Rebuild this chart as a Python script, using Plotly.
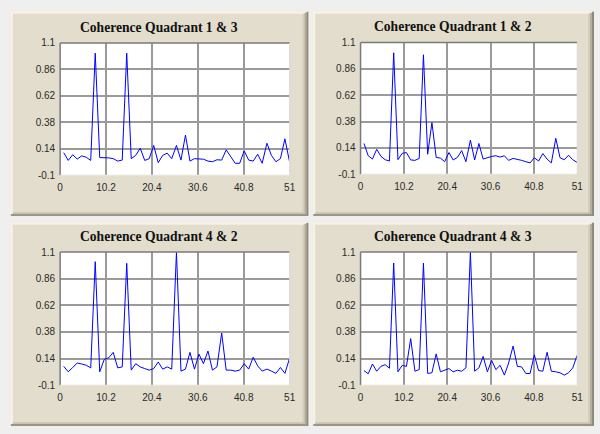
import plotly.graph_objects as go

W, H = 600, 434

# ---------------- data ----------------
x_vals = [0.8, 1.8, 2.8, 3.8, 4.8, 5.8, 6.8, 7.8, 8.8, 9.8,
          10.8, 11.8, 12.8, 13.8, 14.8, 15.8, 16.8, 17.8, 18.8, 19.8,
          20.8, 21.8, 22.8, 23.8, 24.8, 25.85, 26.85, 27.85, 28.85, 29.85,
          30.85, 31.85, 32.85, 33.85, 34.85, 35.9, 36.9, 37.9, 38.9, 39.9,
          40.9, 41.9, 42.9, 43.9, 44.9, 45.95, 46.95, 47.95, 48.95, 49.95, 50.95]

q13 = [0.104, 0.034, 0.086, 0.046, 0.075, 0.063, 0.034, 1.007, 0.06, 0.06,
       0.057, 0.05, 0.028, 0.037, 1.007, 0.05, 0.08, 0.145, 0.034, 0.05,
       0.17, 0.014, 0.08, 0.1, 0.05, 0.17, 0.037, 0.264, 0.028, 0.05,
       0.05, 0.045, 0.028, 0.022, 0.04, 0.037, 0.13, 0.066, 0.008, 0.008,
       0.12, 0.037, 0.028, 0.09, 0.008, 0.19, 0.08, 0.022, 0.05, 0.23, 0.028]

q12 = [0.18, 0.068, 0.038, 0.127, 0.062, 0.032, 0.02, 1.006, 0.032, 0.09,
       0.097, 0.03, 0.026, 0.044, 0.988, 0.082, 0.37, 0.053, 0.047, 0.014,
       0.097, 0.03, 0.053, 0.115, 0.014, 0.21, 0.03, 0.18, 0.038, 0.053,
       0.062, 0.068, 0.056, 0.068, 0.026, 0.044, 0.038, 0.026, 0.014, 0.003,
       0.05, 0.02, 0.088, 0.038, 0.003, 0.227, 0.05, 0.032, 0.073, 0.032, 0.008]

q42 = [0.07, 0.021, 0.06, 0.1, 0.091, 0.08, 0.056, 1.013, 0.021, 0.132,
       0.147, 0.196, 0.056, 0.065, 0.998, 0.036, 0.094, 0.065, 0.05, 0.036,
       0.05, 0.109, 0.045, 0.065, 0.045, 1.1, 0.027, 0.045, 0.196, 0.045,
       0.18, 0.094, 0.208, 0.036, 0.065, 0.37, 0.036, 0.036, 0.027, 0.036,
       0.094, 0.045, 0.152, 0.074, 0.027, 0.045, 0.027, 0.007, 0.06, 0.007, 0.138]

q43 = [0.032, 0.003, 0.091, 0.026, 0.07, 0.085, 0.053, 1.0, 0.021, 0.079,
       0.07, 0.32, 0.026, 0.041, 1.0, 0.006, 0.012, 0.182, 0.021, 0.035,
       0.05, 0.021, 0.035, 0.026, 0.056, 1.1, 0.026, 0.056, 0.159, 0.021,
       0.124, 0.041, 0.079, -0.009, 0.1, 0.253, 0.07, 0.065, 0.006, 0.006,
       0.174, 0.032, 0.026, 0.197, 0.026, 0.021, 0.012, -0.009, 0.012, 0.056, 0.168]

titles = ["Coherence Quadrant 1 & 3", "Coherence Quadrant 1 & 2",
          "Coherence Quadrant 4 & 2", "Coherence Quadrant 4 & 3"]
series = [q13, q12, q42, q43]

x_ticks = [0, 10.2, 20.4, 30.6, 40.8, 51]
x_ticktext = ["0", "10.2", "20.4", "30.6", "40.8", "51"]
y_ticks = [-0.1, 0.14, 0.38, 0.62, 0.86, 1.1]
y_ticktext = ["-0.1", "0.14", "0.38", "0.62", "0.86", "1.1"]

# ---------------- layout geometry (pixels) ----------------
panels = [(7, 5, 310, 216), (314, 5, 600, 216), (7, 222, 310, 432), (314, 222, 600, 432)]
plots = [(58, 38, 291, 174), (363, 37.5, 583, 173), (58, 253, 291, 390), (363, 253, 583, 390)]
title_pos = [(158, 22.5), (457, 21.5), (158, 237), (457, 237)]


def px(x):
    return x / W


def py(y):
    return 1 - y / H


fig = go.Figure()
shapes = []
annotations = []


def rect(x0, y0, x1, y1, color, layer="below"):
    shapes.append(dict(type="rect", xref="paper", yref="paper",
                       x0=px(x0), x1=px(x1), y0=py(y1), y1=py(y0),
                       fillcolor=color, line=dict(width=0), layer=layer))


def line(x0, y0, x1, y1, color, width=1, layer="above"):
    shapes.append(dict(type="line", xref="paper", yref="paper",
                       x0=px(x0), x1=px(x1), y0=py(y0), y1=py(y1),
                       line=dict(color=color, width=width), layer=layer))


for (x0, y0, x1, y1) in panels:
    rect(x0, y0, x1, y1, "#e3ddcd")
    # highlight left/top
    rect(x0, y0, x0 + 3, y1, "#f6f1e4")
    rect(x0, y0, x1, y0 + 3, "#f6f1e4")
    # shadow right/bottom
    rect(x1 - 6, y0 + 3, x1 - 4, y1, "#d4cdbb")
    rect(x1 - 4, y0 + 2, x1 - 2, y1, "#b3ad9c")
    rect(x1 - 2, y0 + 1, x1, y1, "#8d8879")
    rect(x0 + 3, y1 - 4, x1 - 4, y1 - 2, "#c9c2b0")
    rect(x0 + 1, y1 - 2, x1 - 2, y1, "#9a9586")

for (x0, y0, x1, y1) in plots:
    rect(x0, y0, x1, y1, "#ffffff")

for i, (s, t) in enumerate(zip(series, titles)):
    n = "" if i == 0 else str(i + 1)
    x0, y0, x1, y1 = plots[i]
    fig.add_trace(go.Scatter(x=x_vals, y=s, mode="lines",
                             line=dict(color="#0000ff", width=1),
                             xaxis="x" + n, yaxis="y" + n, showlegend=False,
                             hoverinfo="skip"))
    common = dict(showgrid=True, gridcolor="#9a9a9a", gridwidth=1.5, zeroline=False,
                  showline=False, ticks="", fixedrange=True,
                  tickfont=dict(family="Liberation Sans, Arial, sans-serif", size=10, color="#2a2a2a"))
    fig.layout["xaxis" + n] = dict(domain=[px(x0), px(x1)], range=[0, 51],
                                   tickvals=x_ticks, ticktext=x_ticktext,
                                   anchor="y" + n, ticklabelstandoff=5, **common)
    fig.layout["yaxis" + n] = dict(domain=[py(y1), py(y0)], range=[-0.1, 1.1],
                                   tickvals=y_ticks, ticktext=y_ticktext,
                                   anchor="x" + n, ticklabelstandoff=4, **common)
    # sunken frame
    line(x0, y0, x1, y0, "#7a7a7a", 1.5)
    line(x0, y0, x0, y1, "#7a7a7a", 1.5)
    line(x1, y0, x1, y1, "#d9d9d9", 1)
    line(x0, y1, x1, y1, "#e8e4da", 1)
    tx, ty = title_pos[i]
    annotations.append(dict(text="<b>" + t + "</b>", x=px(tx), y=py(ty), xref="paper", yref="paper",
                            xanchor="center", yanchor="middle", showarrow=False,
                            font=dict(family="Liberation Serif, Times New Roman, serif", size=13.6, color="#111111")))

fig.update_layout(width=W, height=H, margin=dict(l=0, r=0, t=0, b=0),
                  paper_bgcolor="#efefef", plot_bgcolor="#ffffff",
                  shapes=shapes, annotations=annotations, showlegend=False)

fig.write_html("out.html", config={"displayModeBar": False})
